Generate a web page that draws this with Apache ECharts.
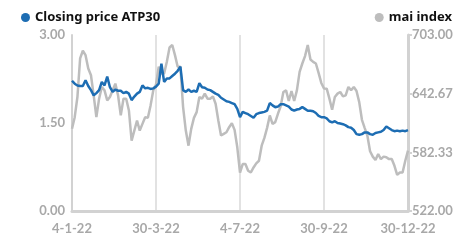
<!DOCTYPE html>
<html>
<head>
<meta charset="utf-8">
<script src="https://cdn.jsdelivr.net/npm/echarts@6/dist/echarts.min.js"></script>
<style>
  html, body { margin: 0; padding: 0; background: #fff; }
  #chart { width: 473px; height: 242px; }
</style>
</head>
<body>
<div id="chart"></div>
<script>
// tick labels on the date axis, one every 31 points
let tickLabels = ['4-1-22', '30-3-22', '4-7-22', '30-9-22', '30-12-22'];

// closing price ATP30 (left axis), roughly every second trading day
let atpValues = [
  2.22, 2.17, 2.14, 2.13, 2.13, 2.23, 2.13, 2.06, 1.97, 2.01, 2.06, 2.20, 2.14, 2.29, 2.11, 2.03,
  2.07, 2.05, 2.05, 2.01, 2.03, 2.00, 1.89, 1.95, 2.00, 2.03, 2.14, 2.09, 2.10, 2.08, 2.09, 2.12,
  2.17, 2.51, 2.20, 2.26, 2.26, 2.30, 2.34, 2.39, 2.46, 2.06, 2.03, 2.07, 2.03, 2.05, 2.03, 2.18,
  2.11, 2.10, 2.07, 2.06, 2.03, 2.00, 1.98, 1.93, 1.90, 1.87, 1.86, 1.84, 1.82, 1.74, 1.60,
  1.69, 1.67, 1.65, 1.62, 1.59, 1.65, 1.67, 1.68, 1.69, 1.71, 1.84, 1.80, 1.77, 1.78, 1.82, 1.82,
  1.80, 1.78, 1.73, 1.71, 1.73, 1.74, 1.77, 1.74, 1.71, 1.71, 1.70, 1.67, 1.62, 1.60, 1.60,
  1.58, 1.53, 1.51, 1.53, 1.50, 1.49, 1.48, 1.46, 1.43, 1.42, 1.38, 1.31, 1.30, 1.31, 1.34, 1.34,
  1.31, 1.30, 1.33, 1.34, 1.35, 1.38, 1.44, 1.41, 1.38, 1.36, 1.37, 1.36, 1.37, 1.36, 1.38
];

// mai index (right axis)
let maiValues = [
  606.5, 618.5, 639.2, 678.9, 686.8, 682.3, 668.5, 661.6, 640.9, 618.5, 637.5, 649.6, 646.1, 635.8, 639.2, 646.1,
  653.0, 640.9, 620.3, 637.5, 637.5, 625.4, 594.4, 604.7, 615.1, 604.7, 611.6, 618.5, 617.8, 630.6, 646.1, 652.0,
  670.3, 663.4, 663.4, 675.4, 690.2, 692.7, 682.3, 670.3, 670.3, 628.9, 604.7, 589.2, 606.5, 617.8, 623.7, 639.2,
  637.5, 642.7, 637.5, 637.5, 639.9, 632.3, 615.1, 599.6, 601.3, 603.0, 608.2, 612.3, 605.4, 587.5, 561.6,
  570.3, 570.3, 563.4, 561.6, 566.8, 571.0, 573.7, 589.2, 597.2, 607.5, 620.3, 611.6, 613.4, 622.0, 629.6, 644.4,
  646.1, 635.1, 645.4, 635.1, 646.1, 665.1, 673.7, 681.3, 692.7, 677.8, 675.4, 673.7, 664.0, 653.7, 648.0,
  647.8, 637.5, 626.1, 639.2, 642.7, 644.4, 639.9, 640.9, 649.6, 646.1, 649.6, 645.4, 634.0, 615.8, 607.5, 599.6,
  583.4, 577.9, 574.4, 580.6, 575.4, 577.9, 577.2, 575.4, 575.4, 568.5, 559.2, 561.6, 561.6, 573.7, 584.1
];

let step = 31;
let categories = atpValues.map(function(v, i) {
  return i % step === 0 ? tickLabels[i / step] : 'd' + i;
});

let grey = '#d2d2d2';
let labelStyle = {
  color: '#a8a8a8',
  fontFamily: 'Lato',
  fontWeight: 'bold',
  fontSize: 13
};

let chart = echarts.init(document.getElementById('chart'));
chart.setOption({
  animation: false,
  legend: [
    {
      left: 16,
      top: 6,
      icon: 'circle',
      itemWidth: 9,
      itemHeight: 9,
      itemGap: 6,
      data: ['Closing price ATP30'],
      textStyle: {color: '#111', fontFamily: 'Noto Sans', fontWeight: 'bold', fontSize: 13}
    },
    {
      right: 16,
      top: 6,
      icon: 'circle',
      itemWidth: 9,
      itemHeight: 9,
      data: ['mai index'],
      textStyle: {color: '#111', fontFamily: 'Noto Sans', fontWeight: 'bold', fontSize: 13}
    }
  ],
  grid: {left: 72, right: 65, top: 35, bottom: 31},
  xAxis: {
    type: 'category',
    boundaryGap: false,
    data: categories,
    axisLine: {lineStyle: {color: grey, width: 3}},
    axisTick: {show: false},
    axisLabel: Object.assign({interval: step - 1, margin: 11}, labelStyle),
    splitLine: {show: true, interval: step - 1, lineStyle: {color: '#d9d9d9', width: 1.5}}
  },
  yAxis: [
    {
      type: 'value',
      min: 0,
      max: 3,
      interval: 1.5,
      axisLine: {show: true, lineStyle: {color: grey, width: 2}},
      axisTick: {show: false},
      splitLine: {show: false},
      axisLabel: Object.assign({margin: 7, formatter: function(v) { return v.toFixed(2); }}, labelStyle)
    },
    {
      type: 'value',
      min: 522,
      max: 703,
      interval: 181 / 3,
      axisLine: {show: true, lineStyle: {color: grey, width: 3}},
      axisTick: {show: true, length: 4, lineStyle: {color: grey, width: 2}},
      splitLine: {show: false},
      axisLabel: Object.assign({margin: 4, formatter: function(v) { return v.toFixed(2); }}, labelStyle)
    }
  ],
  series: [
    {
      name: 'mai index',
      type: 'line',
      yAxisIndex: 1,
      data: maiValues,
      symbol: 'none',
      color: '#bdbdbd',
      lineStyle: {width: 2.5, color: '#bdbdbd'},
      z: 2
    },
    {
      name: 'Closing price ATP30',
      type: 'line',
      data: atpValues,
      symbol: 'none',
      color: '#1d6db3',
      lineStyle: {width: 2.5, color: '#1d6db3'},
      z: 3
    }
  ]
});
</script>
</body>
</html>
